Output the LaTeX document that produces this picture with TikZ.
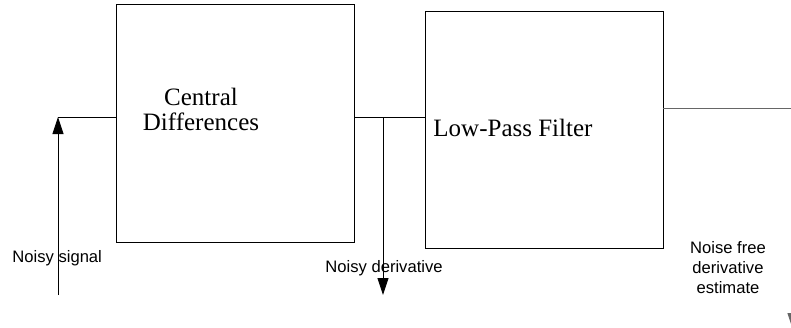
\documentclass[tikz,border=0pt]{standalone}
\usepackage{fontspec}
\setmainfont{Liberation Serif}
\newfontfamily\labelfont{Liberation Sans}
\usetikzlibrary{arrows.meta}

\begin{document}
\begin{tikzpicture}[x=1pt,y=-1pt,line width=0.9pt]
	\useasboundingbox (0,0) rectangle (791,327);
	\begin{scope}[every node/.style={draw,rectangle,inner sep=0pt}]
    	\node[minimum width=238pt,minimum height=238pt] (CD) at (235,123) {};
    	\node[minimum width=238pt,minimum height=237pt] (LP) at (544,129.5) {};
	\end{scope}
	\begin{scope}[every node/.style={inner sep=0pt,font=\fontsize{25}{25}\selectfont}]
    	\node[align=center,anchor=north] (CDtext) at (201,88) {Central\\Differences};
    	\node[anchor=base west] (LPtext) at (433,136) {Low-Pass Filter};
	\end{scope}
	\begin{scope}[every node/.style={inner sep=0pt,font=\labelfont\fontsize{16.6}{20}\selectfont}]
    	\node[anchor=base west] (sig) at (12,262) {Noisy signal};
    	\node[anchor=base west] (der) at (325,272) {Noisy derivative};
    	\node[align=center,anchor=north] (est) at (728,241) {Noise free\\derivative\\estimate};
	\end{scope}
	\coordinate (in) at (58,295);
	\coordinate (inTop) at (58,117);
	\coordinate (split) at (383,117);
	\coordinate (tap) at (383,295);
	\coordinate (outA) at (793,108);
	\coordinate (outB) at (793,330);
	\begin{scope}[>={Triangle[length=17pt,width=11pt]}]
    	\draw[->] (in) -- (inTop);
    	\draw (inTop) -- (inTop -| CD.west);
    	\draw (split -| CD.east) -- (split -| LP.west);
    	\draw[->] (split) -- (tap);
    	\draw[->,black!60] (outA -| LP.east) -- (outA) -- (outB);
	\end{scope}
\end{tikzpicture}
\end{document}
